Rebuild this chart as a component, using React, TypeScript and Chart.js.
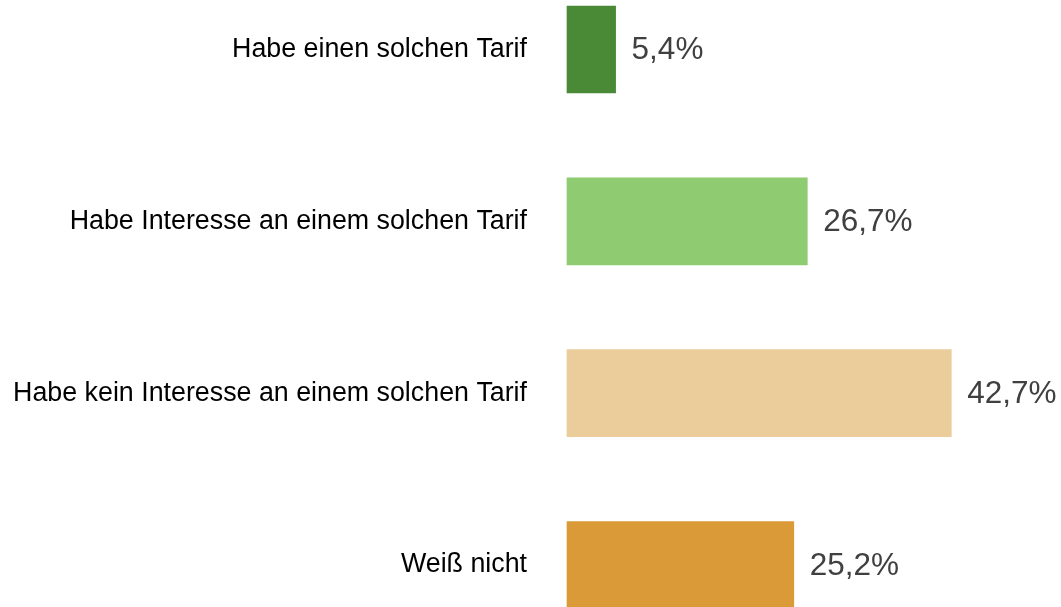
import React, { useEffect, useRef } from "react";
import { Chart, registerables } from "chart.js";

Chart.register(...registerables);

const categories = [
  "Habe einen solchen Tarif",
  "Habe Interesse an einem solchen Tarif",
  "Habe kein Interesse an einem solchen Tarif",
  "Weiß nicht",
];
const values = [5.4, 26.7, 42.7, 25.2];
const colors = ["#4a8935", "#8ecb71", "#ebcc9b", "#da9a38"];

const valueLabels = {
  id: "valueLabels",
  afterDatasetsDraw(chart: any) {
    const ctx = chart.ctx;
    const meta = chart.getDatasetMeta(0);
    ctx.save();
    ctx.font = "31.5px 'Liberation Sans', Arial, sans-serif";
    ctx.fillStyle = "#404040";
    ctx.textAlign = "left";
    ctx.textBaseline = "middle";
    meta.data.forEach((bar: any, i: number) => {
      const txt = values[i].toFixed(1).replace(".", ",") + "%";
      ctx.fillText(txt, bar.x + 16, bar.y + 1);
    });
    ctx.restore();
  },
};

export default function App() {
  const ref = useRef<HTMLCanvasElement>(null);
  useEffect(() => {
    if (!ref.current) return;
    const chart = new Chart(ref.current, {
      type: "bar",
      data: {
        labels: categories,
        datasets: [
          {
            data: values,
            backgroundColor: colors,
            borderWidth: 0,
            barThickness: 87,
            clip: false as any,
          },
        ],
      },
      options: {
        indexAxis: "y",
        animation: false,
        responsive: false,
        maintainAspectRatio: false,
        layout: { padding: { top: 49.5, bottom: 42, left: 0, right: 44 } },
        plugins: {
          legend: { display: false },
          tooltip: { enabled: false },
        },
        scales: {
          x: { display: false, min: 0, max: 50 },
          y: {
            offset: false,
            grid: { display: false, drawTicks: false },
            border: { display: false },
            ticks: {
              padding: 40,
              color: "#000000",
              font: { family: "'Liberation Sans', Arial, sans-serif", size: 26.8 },
            },
            afterFit(scale: any) {
              scale.width = 567;
              scale.paddingTop = 0;
              scale.paddingBottom = 0;
            },
          },
        },
      },
      plugins: [valueLabels],
    });
    return () => chart.destroy();
  }, []);
  return (
    <canvas
      ref={ref}
      width={1061}
      height={607}
      style={{ position: "fixed", left: 0, top: 0, width: 1061, height: 607 }}
    />
  );
}
